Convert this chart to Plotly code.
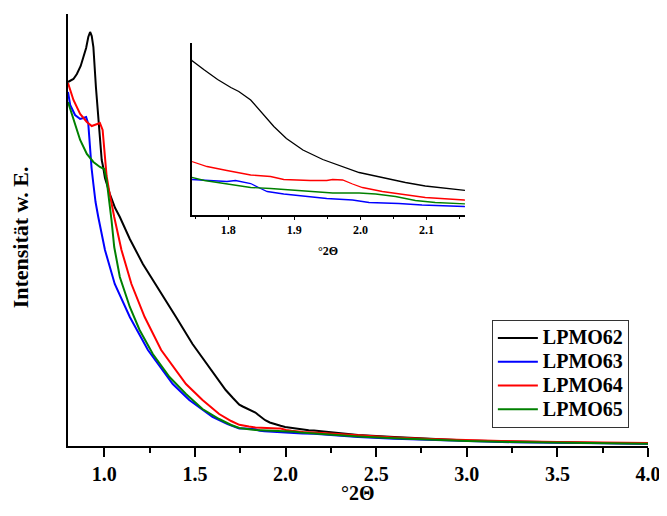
import plotly.graph_objects as go

# ---- data (intensity in arbitrary units) ----
x_lpmo62 = [0.800, 0.830, 0.849, 0.870, 0.885, 0.900, 0.912, 0.922, 0.931, 0.940, 0.954, 0.967, 0.986, 0.994, 1.004, 1.031, 1.060, 1.086, 1.141, 1.213, 1.304, 1.396, 1.487, 1.579, 1.670, 1.710,
            1.745, 1.764, 1.784, 1.804, 1.816, 1.834, 1.849, 1.869, 1.888, 1.913, 1.943, 1.973, 1.998, 2.033, 2.068, 2.098, 2.128, 2.157,
            2.25, 2.40, 2.60, 2.80, 3.00, 3.25, 3.50, 3.75, 4.00]
y_lpmo62 = [364, 367, 372, 380, 389, 398, 409, 414, 410, 399, 359, 326, 286, 279, 268, 252, 238, 229, 207, 182, 156, 129, 102, 79, 56, 48,
            41.4, 39.5, 37.6, 36.0, 35.2, 33.5, 31.2, 28.2, 25.8, 23.5, 21.6, 20.2, 19.0, 18.0, 17.0, 16.3, 15.8, 15.4,
            13.5, 11.0, 9.0, 7.0, 5.5, 4.5, 3.5, 3.0, 2.5]

x_lpmo63 = [0.800, 0.812, 0.839, 0.867, 0.885, 0.900, 0.912, 0.920, 0.930, 0.940, 0.952, 0.967, 0.985, 1.004, 1.058, 1.141, 1.241, 1.378, 1.469, 1.597, 1.680,
            1.745, 1.774, 1.798, 1.811, 1.834, 1.849, 1.859, 1.884, 1.913, 1.949, 1.988, 2.013, 2.058, 2.093, 2.157,
            2.25, 2.40, 2.60, 2.80, 3.00, 3.25, 3.50, 3.75, 4.00]
y_lpmo63 = [354, 341, 331, 327, 328, 329, 322, 300, 278, 262, 244, 229, 212, 196, 162, 129, 96, 62, 46, 29, 22,
            17.6, 17.4, 17.2, 17.4, 16.8, 15.8, 15.2, 14.7, 14.3, 13.8, 13.5, 13.0, 12.8, 12.5, 12.2,
            11.0, 9.0, 7.3, 6.0, 4.8, 3.8, 3.2, 2.6, 2.2]

x_lpmo64 = [0.800, 0.830, 0.867, 0.904, 0.931, 0.958, 0.976, 0.991, 1.004, 1.013, 1.027, 1.055, 1.095, 1.150, 1.223, 1.314, 1.451, 1.542, 1.634, 1.700,
            1.745, 1.768, 1.798, 1.834, 1.864, 1.884, 1.924, 1.949, 1.958, 1.973, 1.988, 2.003, 2.033, 2.063, 2.098, 2.157,
            2.25, 2.40, 2.60, 2.80, 3.00, 3.25, 3.50, 3.75, 4.00]
y_lpmo64 = [363, 346, 332, 324, 320, 322, 323, 316, 292, 270, 255, 229, 196, 162, 129, 96, 62, 46, 32, 25,
            21.2, 20.2, 19.4, 18.5, 18.2, 17.6, 17.4, 17.4, 17.6, 17.5, 16.7, 16.0, 15.2, 14.6, 14.0, 13.5,
            12.5, 10.5, 8.5, 7.0, 5.8, 4.8, 4.0, 3.4, 3.0]

x_lpmo65 = [0.800, 0.830, 0.867, 0.904, 0.940, 0.976, 1.000, 1.013, 1.027, 1.040, 1.055, 1.086, 1.141, 1.195, 1.268, 1.360, 1.451, 1.542, 1.634, 1.700,
            1.745, 1.764, 1.784, 1.809, 1.834, 1.864, 1.898, 1.934, 1.958, 1.998, 2.023, 2.053, 2.083, 2.113, 2.157,
            2.25, 2.40, 2.60, 2.80, 3.00, 3.25, 3.50, 3.75, 4.00]
y_lpmo65 = [344, 326, 306, 292, 284, 279, 277, 266, 246, 226, 199, 169, 139, 116, 92, 69, 52, 37, 27, 21,
            18.0, 17.4, 17.0, 16.4, 16.0, 15.8, 15.5, 15.2, 14.9, 14.9, 14.7, 14.2, 13.4, 13.0, 12.6,
            11.5, 9.5, 7.8, 6.3, 5.0, 4.0, 3.3, 2.7, 2.3]

series_names = ["LPMO62", "LPMO63", "LPMO64", "LPMO65"]
series_x = [x_lpmo62, x_lpmo63, x_lpmo64, x_lpmo65]
series_y = [y_lpmo62, y_lpmo63, y_lpmo64, y_lpmo65]
colors = ["#000000", "#0000FF", "#FF0000", "#008000"]

main_xticks = [1.0, 1.5, 2.0, 2.5, 3.0, 3.5, 4.0]
inset_xticks = [1.8, 1.9, 2.0, 2.1]

FONT = "Liberation Serif"

fig = go.Figure()
for name, xs, ys, c in zip(series_names, series_x, series_y, colors):
    fig.add_trace(go.Scatter(x=xs, y=ys, mode="lines",
                             name=f"<span style='font-size:20px'>{name}</span>",
                             line=dict(color=c, width=2)))
for name, xs, ys, c in zip(series_names, series_x, series_y, colors):
    fig.add_trace(go.Scatter(x=xs, y=ys, mode="lines", name=name, showlegend=False,
                             xaxis="x2", yaxis="y2", line=dict(color=c, width=1.3)))

# the page body adds an 8px margin, so the figure is 8px smaller and shifted
fig.update_layout(
    width=659, height=508,
    margin=dict(l=60, r=15, t=6, b=70),
    paper_bgcolor="white", plot_bgcolor="white",
    font=dict(family=FONT, color="black"),
    xaxis=dict(range=[0.8, 4.0], showline=True, linecolor="black", linewidth=2,
               showgrid=False, zeroline=False, ticks="outside", ticklen=9, tickwidth=2,
               tickcolor="black", tickvals=main_xticks, ticktext=[f"{v:.1f}" for v in main_xticks],
               tickfont=dict(family=FONT, size=20, weight="bold"), ticklabelstandoff=0,
               minor=dict(ticks="outside", ticklen=5, tickwidth=2, tickcolor="black", dtick=0.25, tick0=0.75, showgrid=False)),
    yaxis=dict(range=[0, 432], showline=True, linecolor="black", linewidth=2,
               showgrid=False, zeroline=False, showticklabels=False, ticks=""),
    xaxis2=dict(domain=[0.2135, 0.6844], anchor="y2", range=[1.745, 2.158],
                showline=True, linecolor="black", linewidth=1.5, showgrid=False, zeroline=False,
                ticks="outside", ticklen=3, tickwidth=1.2, tickcolor="black",
                tickvals=inset_xticks, ticktext=[f"{v:.1f}" for v in inset_xticks],
                tickfont=dict(family=FONT, size=12, weight="bold"),
                minor=dict(ticks="outside", ticklen=2, tickwidth=1.2, tickcolor="black", dtick=0.05, tick0=1.75, showgrid=False)),
    yaxis2=dict(domain=[0.5347, 0.9329], anchor="x2", range=[10.5, 44.9],
                showline=True, linecolor="black", linewidth=1.5, showgrid=False, zeroline=False,
                showticklabels=False, ticks=""),
    legend=dict(x=0.967, xanchor="right", y=0.2917, yanchor="top",
                bordercolor="#333333", borderwidth=1, bgcolor="white",
                font=dict(family=FONT, size=16, color="black", weight="bold"),
                tracegroupgap=0, itemwidth=40),
    showlegend=True,
    annotations=[
        dict(text="°2Θ", xref="paper", yref="paper", x=0.5, y=-0.108, xanchor="center", yanchor="middle",
             showarrow=False, font=dict(family=FONT, size=20, weight="bold")),
        dict(text="Intensität w. E.", xref="paper", yref="paper", x=-0.082, y=0.484, xanchor="center", yanchor="middle",
             textangle=-90, showarrow=False, font=dict(family=FONT, size=22, weight="bold")),
        dict(text="°2Θ", xref="paper", yref="paper", x=0.4486, y=0.452, xanchor="center", yanchor="middle",
             showarrow=False, font=dict(family=FONT, size=12, weight="bold")),
    ],
)

fig.write_html("out.html")
